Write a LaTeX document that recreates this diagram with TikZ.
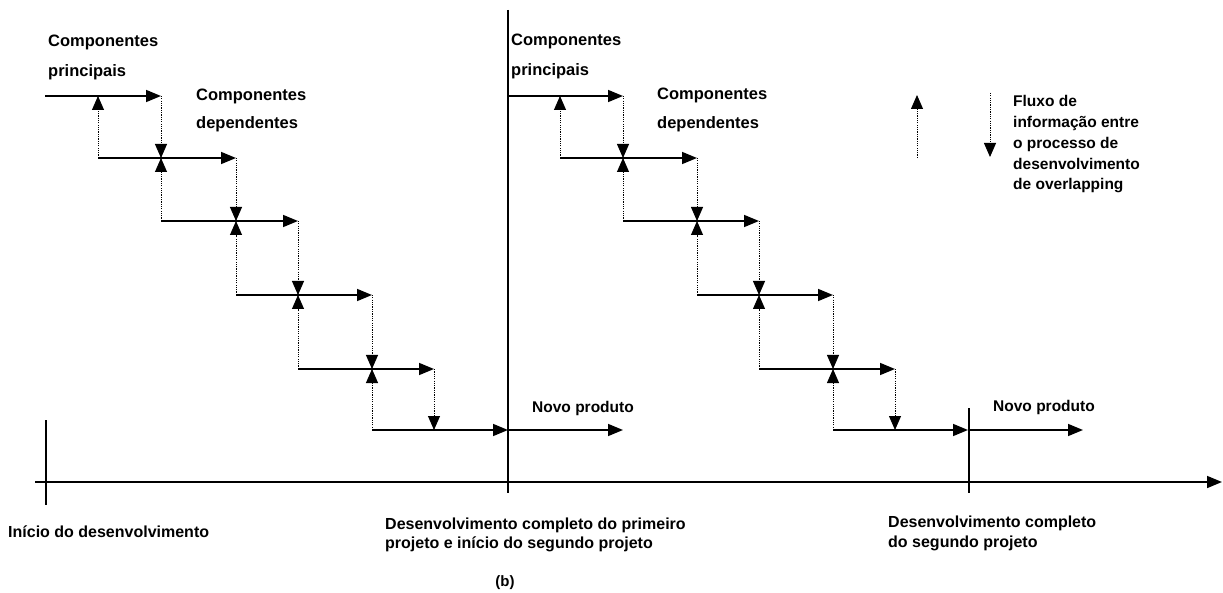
\documentclass[tikz,border=0pt]{standalone}
\usepackage{fontspec}
\setmainfont{Liberation Sans}
\usetikzlibrary{arrows.meta}
\begin{document}
\begin{tikzpicture}[x=1pt,y=-1pt,
  flow/.style={line width=1.6pt,-{Triangle[length=15pt,width=12pt]}},
  info/.style={line width=0.9pt,dash pattern=on 1.2pt off 1.1pt,-{Triangle[length=14pt,width=12pt]}},
  markline/.style={line width=1.3pt},
  big/.style={font=\bfseries\fontsize{16.5}{20}\selectfont,inner sep=0pt,anchor=base west},
  mid/.style={font=\bfseries\fontsize{16}{19}\selectfont,inner sep=0pt,anchor=base west},
  small/.style={font=\bfseries\fontsize{15.5}{19}\selectfont,inner sep=0pt,anchor=base west}]
\useasboundingbox (0,0) rectangle (1223,593);
\fill[white] (0,0) rectangle (1223,593);

% grid coordinates of the two staircases
\foreach \j/\xx in {0/45,1/98,2/161,3/236,4/298,5/372,6/434,7/508}{
  \foreach \i/\yy in {0/96,1/158,2/221,3/295,4/369,5/430}{
    \coordinate (L-\j-\i) at (\xx,\yy);
  }
}
\foreach \j/\xx in {0/508,1/560,2/623,3/697,4/759,5/833,6/895,7/968}{
  \foreach \i/\yy in {0/96,1/158,2/221,3/295,4/369,5/430}{
    \coordinate (R-\j-\i) at (\xx,\yy);
  }
}

% staircases
\foreach \s in {L,R}{
  \foreach \i [evaluate=\i as \k using int(\i+2)] in {0,...,5}{
    \draw[flow] (\s-\i-\i) -- (\s-\k-\i);
  }
  \foreach \i [evaluate=\i as \k using int(\i+1), evaluate=\i as \m using int(\i+2)] in {0,...,4}{
    \draw[info] (\s-\k-\k) -- (\s-\k-\i);
    \draw[info] (\s-\m-\i) -- (\s-\m-\k);
  }
}

% milestone lines and time axis
\coordinate (v0t) at (46,420);  \coordinate (v0b) at (46,505);
\coordinate (v1t) at (508,10);  \coordinate (v1b) at (508,493);
\coordinate (v2t) at (969,408); \coordinate (v2b) at (969,493);
\draw[markline] (v0t) -- (v0b);
\draw[markline] (v1t) -- (v1b);
\draw[markline] (v2t) -- (v2b);
\coordinate (ax0) at (35,482); \coordinate (ax1) at (1222,482);
\draw[flow] (ax0) -- (ax1);

% new product arrows
\coordinate (np1) at (623,430); \coordinate (np2) at (1083,430);
\draw[flow] (L-7-5) -- (np1);
\draw[flow] (R-7-5) -- (np2);

% legend arrows
\coordinate (lu0) at (917,158); \coordinate (lu1) at (917,95);
\coordinate (ld0) at (990,93);  \coordinate (ld1) at (990,157);
\draw[info] (lu0) -- (lu1);
\draw[info] (ld0) -- (ld1);

% labels
\node[big] (cp1a) at (48,47) {Componentes};
\node[big] (cp1b) at (48,77) {principais};
\node[big] (cd1a) at (196,101) {Componentes};
\node[big] (cd1b) at (196,129) {dependentes};
\node[big] (cp2a) at (511,46) {Componentes};
\node[big] (cp2b) at (511,76) {principais};
\node[big] (cd2a) at (657,100) {Componentes};
\node[big] (cd2b) at (657,129) {dependentes};

\node[small] (lg1) at (1013,107) {Fluxo de};
\node[small] (lg2) at (1013,128) {informação entre};
\node[small] (lg3) at (1013,149) {o processo de};
\node[small] (lg4) at (1013,170) {desenvolvimento};
\node[small] (lg5) at (1013,190) {de overlapping};

\node[small] (nv1) at (532,412) {Novo produto};
\node[small] (nv2) at (993,411) {Novo produto};

\node[mid] (t0) at (8,537) {Início do desenvolvimento};
\node[mid] (t1a) at (385,529) {Desenvolvimento completo do primeiro};
\node[mid] (t1b) at (385,548) {projeto e início do segundo projeto};
\node[mid] (t2a) at (888,527) {Desenvolvimento completo};
\node[mid] (t2b) at (888,547) {do segundo projeto};

\node[font=\bfseries\fontsize{15}{18}\selectfont,inner sep=0pt,anchor=base] (cap) at (505,586) {(b)};
\end{tikzpicture}
\end{document}
